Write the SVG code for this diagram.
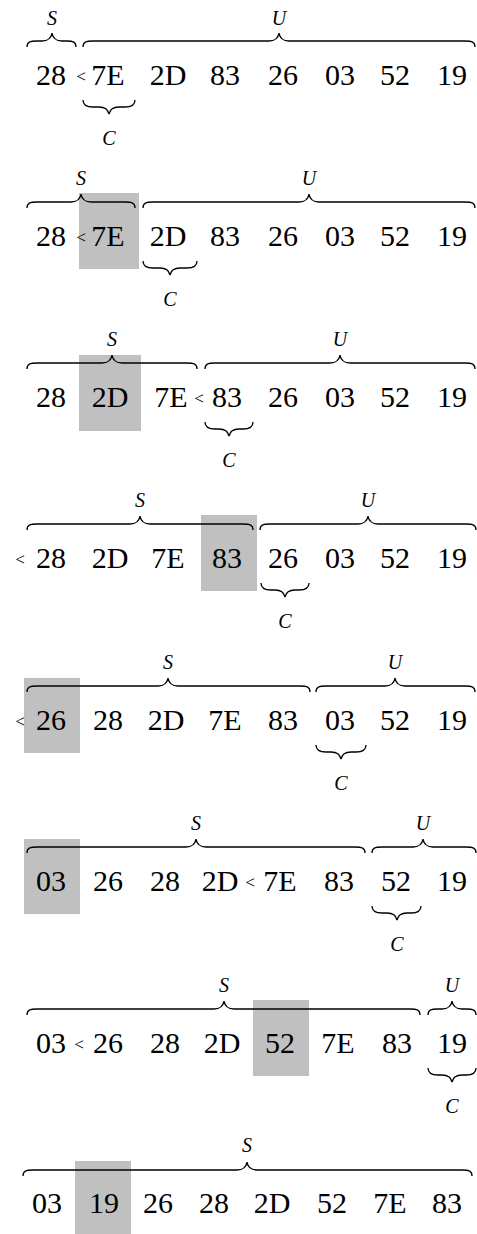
<svg xmlns="http://www.w3.org/2000/svg" width="477" height="1234" viewBox="0 0 477 1234" font-family="Liberation Serif, Times New Roman, DejaVu Serif, serif">
<defs>
<style>
text{font-family:'Liberation Serif','Times New Roman','DejaVu Serif',serif}
.n{font-size:30px;text-anchor:middle;fill:#000}
.lt{font-size:17px;text-anchor:middle;fill:#000}
.l{font-size:20px;font-style:italic;text-anchor:middle;fill:#000}
.hl{fill:#c0c0c0}
.br{fill:none;stroke:#000;stroke-width:1.3}
</style>
</defs>
<rect width="477" height="1234" fill="#fff"/>

<!-- Row 1 -->
<g id="row1">
<text class="n" x="51" y="85">28</text><text class="lt" x="81" y="82">&lt;</text><text class="n" x="108" y="85">7E</text><text class="n" x="168" y="85">2D</text><text class="n" x="225" y="85">83</text><text class="n" x="283" y="85">26</text><text class="n" x="340" y="85">03</text><text class="n" x="395" y="85">52</text><text class="n" x="452" y="85">19</text>
<path class="br" d="M27 47 C27 42,30 41,37 41 L42 41 C48 41,51 39,52 33 C53 39,56 41,62 41 L67 41 C73 41,76 42,76 47"/>
<text class="l" x="52" y="25">S</text>
<path class="br" d="M83 47 C83 42,86 41,93 41 L269 41 C275 41,278 39,279 33 C280 39,283 41,289 41 L465 41 C472 41,475 42,475 47"/>
<text class="l" x="279" y="25">U</text>
<path class="br" d="M83 100 C83 105,86 107,93 107 L99 107 C105 107,108 109,109 114 C110 109,113 107,119 107 L125 107 C132 107,135 105,135 100"/>
<text class="l" x="109" y="145">C</text>
</g>

<!-- Row 2 -->
<g id="row2">
<rect class="hl" x="79" y="193" width="60" height="76"/>
<text class="n" x="51" y="246">28</text><text class="lt" x="81" y="243">&lt;</text><text class="n" x="108" y="246">7E</text><text class="n" x="168" y="246">2D</text><text class="n" x="225" y="246">83</text><text class="n" x="283" y="246">26</text><text class="n" x="340" y="246">03</text><text class="n" x="395" y="246">52</text><text class="n" x="452" y="246">19</text>
<path class="br" d="M27 208 C27 203,30 202,37 202 L71 202 C77 202,80 200,81 194 C82 200,85 202,91 202 L125 202 C132 202,135 203,135 208"/>
<text class="l" x="81" y="185">S</text>
<path class="br" d="M143 208 C143 203,146 202,153 202 L299 202 C305 202,308 200,309 194 C310 200,313 202,319 202 L465 202 C472 202,475 203,475 208"/>
<text class="l" x="309" y="185">U</text>
<path class="br" d="M143 261 C143 266,146 268,153 268 L160 268 C166 268,169 270,170 275 C171 270,174 268,180 268 L187 268 C194 268,197 266,197 261"/>
<text class="l" x="170" y="306">C</text>
</g>

<!-- Row 3 -->
<g id="row3">
<rect class="hl" x="79" y="355" width="62" height="76"/>
<text class="n" x="51" y="407">28</text><text class="n" x="110" y="407">2D</text><text class="n" x="171" y="407">7E</text><text class="lt" x="199" y="404">&lt;</text><text class="n" x="227" y="407">83</text><text class="n" x="283" y="407">26</text><text class="n" x="340" y="407">03</text><text class="n" x="395" y="407">52</text><text class="n" x="452" y="407">19</text>
<path class="br" d="M27 369 C27 364,30 363,37 363 L102 363 C108 363,111 361,112 355 C113 361,116 363,122 363 L187 363 C194 363,197 364,197 369"/>
<text class="l" x="112" y="346">S</text>
<path class="br" d="M205 369 C205 364,208 363,215 363 L330 363 C336 363,339 361,340 355 C341 361,344 363,350 363 L465 363 C472 363,475 364,475 369"/>
<text class="l" x="340" y="346">U</text>
<path class="br" d="M205 422 C205 427,208 429,215 429 L219 429 C225 429,228 431,229 436 C230 431,233 429,239 429 L243 429 C250 429,253 427,253 422"/>
<text class="l" x="229" y="467">C</text>
</g>

<!-- Row 4 -->
<g id="row4">
<rect class="hl" x="201" y="515" width="56" height="76"/>
<text class="lt" x="20" y="565">&lt;</text><text class="n" x="51" y="568">28</text><text class="n" x="110" y="568">2D</text><text class="n" x="168" y="568">7E</text><text class="n" x="227" y="568">83</text><text class="n" x="283" y="568">26</text><text class="n" x="340" y="568">03</text><text class="n" x="395" y="568">52</text><text class="n" x="452" y="568">19</text>
<path class="br" d="M27 530 C27 525,30 524,37 524 L130 524 C136 524,139 522,140 516 C141 522,144 524,150 524 L243 524 C250 524,253 525,253 530"/>
<text class="l" x="140" y="507">S</text>
<path class="br" d="M260 530 C260 525,263 524,270 524 L358 524 C364 524,367 522,368 516 C369 522,372 524,378 524 L466 524 C473 524,476 525,476 530"/>
<text class="l" x="368" y="507">U</text>
<path class="br" d="M261 583 C261 588,264 590,271 590 L275 590 C281 590,284 592,285 597 C286 592,289 590,295 590 L299 590 C306 590,309 588,309 583"/>
<text class="l" x="285" y="628">C</text>
</g>

<!-- Row 5 -->
<g id="row5">
<rect class="hl" x="24" y="678" width="56" height="75"/>
<text class="lt" x="20" y="727">&lt;</text><text class="n" x="51" y="730">26</text><text class="n" x="108" y="730">28</text><text class="n" x="166" y="730">2D</text><text class="n" x="225" y="730">7E</text><text class="n" x="283" y="730">83</text><text class="n" x="340" y="730">03</text><text class="n" x="395" y="730">52</text><text class="n" x="452" y="730">19</text>
<path class="br" d="M27 692 C27 687,30 686,37 686 L158 686 C164 686,167 684,168 678 C169 684,172 686,178 686 L300 686 C307 686,310 687,310 692"/>
<text class="l" x="168" y="669">S</text>
<path class="br" d="M316 692 C316 687,319 686,326 686 L385 686 C391 686,394 684,395 678 C396 684,399 686,405 686 L465 686 C472 686,475 687,475 692"/>
<text class="l" x="395" y="669">U</text>
<path class="br" d="M316 745 C316 750,319 752,326 752 L331 752 C337 752,340 754,341 759 C342 754,345 752,351 752 L356 752 C363 752,366 750,366 745"/>
<text class="l" x="341" y="790">C</text>
</g>

<!-- Row 6 -->
<g id="row6">
<rect class="hl" x="24" y="839" width="56" height="75"/>
<text class="n" x="51" y="891">03</text><text class="n" x="108" y="891">26</text><text class="n" x="165" y="891">28</text><text class="n" x="220" y="891">2D</text><text class="lt" x="250" y="888">&lt;</text><text class="n" x="280" y="891">7E</text><text class="n" x="339" y="891">83</text><text class="n" x="396" y="891">52</text><text class="n" x="452" y="891">19</text>
<path class="br" d="M27 853 C27 848,30 847,37 847 L186 847 C192 847,195 845,196 839 C197 845,200 847,206 847 L355 847 C362 847,365 848,365 853"/>
<text class="l" x="196" y="830">S</text>
<path class="br" d="M372 853 C372 848,375 847,382 847 L413 847 C419 847,422 845,423 839 C424 845,427 847,433 847 L466 847 C473 847,476 848,476 853"/>
<text class="l" x="423" y="830">U</text>
<path class="br" d="M372 906 C372 911,375 913,382 913 L387 913 C393 913,396 915,397 920 C398 915,401 913,407 913 L411 913 C418 913,421 911,421 906"/>
<text class="l" x="397" y="951">C</text>
</g>

<!-- Row 7 -->
<g id="row7">
<rect class="hl" x="253" y="1000" width="56" height="76"/>
<text class="n" x="51" y="1053">03</text><text class="lt" x="79" y="1050">&lt;</text><text class="n" x="108" y="1053">26</text><text class="n" x="165" y="1053">28</text><text class="n" x="222" y="1053">2D</text><text class="n" x="280" y="1053">52</text><text class="n" x="338" y="1053">7E</text><text class="n" x="397" y="1053">83</text><text class="n" x="452" y="1053">19</text>
<path class="br" d="M27 1015 C27 1010,30 1009,37 1009 L214 1009 C220 1009,223 1007,224 1001 C225 1007,228 1009,234 1009 L410 1009 C417 1009,420 1010,420 1015"/>
<text class="l" x="224" y="992">S</text>
<path class="br" d="M428 1015 C428 1010,431 1009,438 1009 L442 1009 C448 1009,451 1007,452 1001 C453 1007,456 1009,462 1009 L466 1009 C473 1009,476 1010,476 1015"/>
<text class="l" x="452" y="992">U</text>
<path class="br" d="M428 1068 C428 1073,431 1075,438 1075 L442 1075 C448 1075,451 1077,452 1082 C453 1077,456 1075,462 1075 L466 1075 C473 1075,476 1073,476 1068"/>
<text class="l" x="452" y="1113">C</text>
</g>

<!-- Row 8 -->
<g id="row8">
<rect class="hl" x="75" y="1161" width="56" height="73"/>
<text class="n" x="47" y="1213">03</text><text class="n" x="104" y="1213">19</text><text class="n" x="158" y="1213">26</text><text class="n" x="214" y="1213">28</text><text class="n" x="272" y="1213">2D</text><text class="n" x="332" y="1213">52</text><text class="n" x="390" y="1213">7E</text><text class="n" x="447" y="1213">83</text>
<path class="br" d="M23 1176 C23 1171,26 1170,33 1170 L237 1170 C243 1170,246 1168,247 1162 C248 1168,251 1170,257 1170 L462 1170 C469 1170,472 1171,472 1176"/>
<text class="l" x="247" y="1152">S</text>
</g>
</svg>
